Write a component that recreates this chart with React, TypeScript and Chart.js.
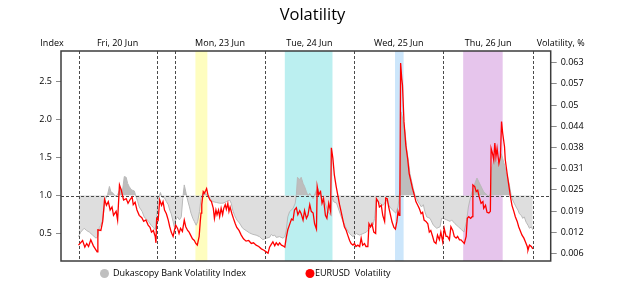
import { useEffect, useRef } from "react";
import { Chart, registerables } from "chart.js";

Chart.register(...registerables);

const TITLE = "Volatility";
const LEFT_AXIS_TITLE = "Index";
const RIGHT_AXIS_TITLE = "Volatility, %";
const INDEX_LABEL = "Dukascopy Bank Volatility Index";
const EURUSD_LABEL = "EURUSD  Volatility";
const FONT = "'Open Sans', 'DejaVu Sans', sans-serif";

// Trading hours, counted from Fri 20 Jun 00:00 (weekend gap removed)
const DAY_LABELS = ["Fri, 20 Jun", "Mon, 23 Jun", "Tue, 24 Jun", "Wed, 25 Jun", "Thu, 26 Jun"];
const DAY_STARTS = [0, 26, 50, 74, 98];
const DAY_ENDS = [21, 50, 74, 98, 122];
const DAY_LINES = [0, 21, 26, 50, 74, 98, 122];

const LEFT_TICKS = [0.5, 1.0, 1.5, 2.0, 2.5];
const RIGHT_TICK_LABELS = ["0.006", "0.012", "0.019", "0.025", "0.031", "0.038", "0.044", "0.05", "0.057", "0.063"];
const RIGHT_TICK_STEP = 0.0063333;
const INDEX_BASELINE = 1.0;

// Highlighted sessions
const BAND_FROM = [31.4, 55.4, 85.0, 103.3];
const BAND_TO = [34.6, 68.2, 87.3, 113.9];
const BAND_COLORS = ["#fefdbf", "#bbeff0", "#cce6fb", "#e6c5ec"];

const INDEX_HOURS = [
  0.0, 0.6, 1.5, 2.2, 2.9, 3.8, 4.7, 5.2, 5.6, 6.0,
  6.5, 7.2, 7.8, 8.3, 8.7, 9.3, 9.9, 10.5, 11.0, 11.4,
  11.8, 12.3, 12.8, 13.2, 13.6, 14.1, 14.5, 15.0, 15.3, 15.9,
  16.3, 17.1, 17.7, 18.1, 18.8, 19.5, 20.1, 20.6, 20.8, 21.0,
  21.4, 22.0, 22.4, 23.1, 23.6, 24.1, 24.5, 24.9, 25.4, 25.7,
  25.9, 26.6, 27.1, 27.6, 28.0, 28.4, 28.9, 29.3, 29.8, 30.2,
  30.7, 31.1, 31.6, 32.0, 32.5, 32.9, 33.4, 33.8, 34.3, 34.7,
  35.2, 36.1, 37.0, 37.9, 38.8, 39.7, 40.6, 41.0, 41.4, 41.9,
  42.5, 43.2, 44.1, 45.0, 45.9, 46.8, 47.7, 48.6, 49.5, 50.4,
  51.3, 51.8, 52.2, 52.7, 53.1, 54.0, 54.9, 55.4, 55.8, 56.2,
  56.7, 57.6, 58.2, 58.5, 58.8, 59.4, 59.8, 60.3, 60.7, 61.2,
  61.6, 62.1, 63.0, 63.9, 64.3, 65.2, 66.1, 67.0, 67.7, 68.1,
  68.5, 69.3, 70.2, 71.0, 71.9, 72.8, 73.7, 74.6, 75.5, 76.4,
  77.3, 78.2, 79.1, 79.5, 80.0, 80.9, 81.8, 82.7, 83.6, 84.5,
  85.2, 85.8, 86.3, 86.6, 87.1, 87.7, 88.1, 88.6, 89.0, 89.5,
  89.9, 90.4, 90.8, 91.2, 91.7, 92.1, 92.6, 93.0, 93.5, 94.4,
  95.3, 96.2, 97.1, 97.5, 98.0, 98.9, 99.8, 100.2, 101.1, 102.0,
  102.9, 103.5, 104.2, 104.7, 105.1, 105.7, 106.6, 107.0, 107.5, 107.9,
  108.4, 108.8, 109.2, 109.7, 110.2, 110.6, 110.9, 111.2, 111.7, 112.1,
  112.6, 113.0, 113.5, 113.9, 114.4, 114.8, 115.3, 115.7, 116.2, 116.6,
  117.1, 117.5, 118.0, 118.4, 118.9, 119.3, 119.7, 120.2, 120.7, 121.1,
  121.6, 122.0,
];

const INDEX_VALUES = [
  0.46, 0.52, 0.57, 0.54, 0.52, 0.48, 0.44, 0.46, 0.58, 0.61,
  0.68, 0.95, 1.01, 1.12, 1.05, 1.03, 0.99, 1.01, 1.07, 1.09,
  1.06, 1.25, 1.24, 1.16, 1.12, 1.08, 1.07, 1.06, 1.01, 0.92,
  0.85, 0.79, 0.71, 0.70, 0.66, 0.61, 0.58, 0.55, 0.55, 0.72,
  0.94, 1.04, 0.98, 0.97, 0.92, 0.88, 0.81, 0.76, 0.66, 0.59,
  0.66, 0.72, 0.68, 0.72, 0.96, 1.14, 1.03, 0.94, 0.85, 0.77,
  0.70, 0.66, 0.61, 0.66, 0.79, 0.96, 1.03, 1.05, 1.02, 0.98,
  0.96, 0.92, 0.91, 0.90, 0.90, 0.92, 0.94, 0.90, 0.81, 0.74,
  0.68, 0.64, 0.57, 0.54, 0.51, 0.49, 0.48, 0.46, 0.42, 0.44,
  0.45, 0.49, 0.47, 0.48, 0.45, 0.46, 0.44, 0.46, 0.55, 0.72,
  0.79, 0.83, 0.90, 1.01, 1.24, 1.21, 1.24, 1.16, 1.12, 1.05,
  1.00, 1.03, 0.96, 1.07, 1.09, 0.98, 0.92, 0.79, 0.74, 0.98,
  0.92, 0.90, 0.77, 0.66, 0.57, 0.50, 0.46, 0.50, 0.48, 0.50,
  0.52, 0.57, 0.61, 0.70, 0.94, 0.90, 0.87, 0.94, 0.85, 0.80,
  0.77, 0.85, 1.07, 2.10, 2.00, 1.84, 1.62, 1.45, 1.29, 1.18,
  1.09, 1.00, 0.96, 0.92, 0.88, 0.85, 0.88, 0.79, 0.72, 0.70,
  0.61, 0.57, 0.59, 0.70, 0.70, 0.68, 0.66, 0.68, 0.63, 0.59,
  0.55, 0.52, 0.66, 0.85, 0.94, 1.05, 1.18, 1.23, 1.18, 1.14,
  1.09, 1.05, 1.03, 1.01, 0.98, 1.03, 1.36, 1.40, 1.51, 1.47,
  1.42, 1.47, 1.55, 1.49, 1.40, 1.31, 1.23, 1.14, 1.00, 0.94,
  0.89, 0.85, 0.81, 0.76, 0.74, 0.70, 0.72, 0.65, 0.61, 0.57,
  0.59, 0.55,
];

const EURUSD_HOURS = [
  0.0, 1.1, 1.7, 2.2, 2.7, 3.3, 4.0, 5.0, 5.2, 6.0,
  6.5, 7.0, 7.5, 8.0, 8.5, 9.0, 9.4, 10.1, 10.5, 11.0,
  11.5, 12.1, 12.8, 13.3, 13.9, 14.4, 14.7, 15.2, 15.7, 16.3,
  17.0, 17.5, 18.1, 18.7, 19.2, 19.6, 20.1, 20.6, 20.8, 21.0,
  21.4, 21.8, 22.3, 22.7, 23.1, 23.6, 24.1, 24.5, 24.9, 25.4,
  25.8, 26.1, 26.6, 27.0, 27.4, 27.9, 28.4, 28.8, 29.3, 29.7,
  30.1, 30.6, 31.1, 31.5, 31.9, 32.4, 32.7, 32.9, 33.1, 33.5,
  33.8, 34.2, 34.4, 34.8, 35.3, 35.7, 36.2, 36.5, 36.9, 37.2,
  37.6, 37.9, 38.3, 38.7, 39.0, 39.4, 39.7, 40.1, 40.4, 40.7,
  41.2, 41.6, 42.1, 42.5, 43.1, 43.7, 44.3, 45.0, 45.7, 46.4,
  47.0, 47.7, 48.4, 49.1, 49.8, 50.4, 50.9, 51.3, 51.8, 52.2,
  52.7, 53.1, 53.6, 54.0, 54.5, 54.9, 55.4, 55.8, 56.2, 56.7,
  57.2, 57.6, 58.0, 58.5, 58.9, 59.4, 59.8, 60.3, 60.7, 61.2,
  61.6, 62.1, 62.5, 63.0, 63.4, 63.9, 64.1, 64.5, 65.0, 65.4,
  65.8, 66.3, 66.7, 67.2, 67.7, 67.9, 68.3, 68.7, 69.2, 69.6,
  70.1, 70.5, 71.0, 71.4, 71.9, 72.3, 72.8, 73.2, 73.7, 74.1,
  74.5, 75.0, 75.5, 75.9, 76.3, 76.8, 77.2, 77.7, 78.0, 78.4,
  78.8, 79.3, 79.8, 80.0, 80.5, 80.8, 81.3, 81.7, 82.2, 82.5,
  82.9, 83.3, 83.8, 84.2, 84.7, 85.1, 85.5, 85.8, 86.1, 86.3,
  86.5, 86.8, 87.0, 87.4, 87.9, 88.4, 88.8, 89.3, 89.7, 90.1,
  90.6, 91.1, 91.5, 92.0, 92.4, 92.8, 93.3, 93.8, 94.2, 94.6,
  95.1, 95.5, 96.0, 96.4, 96.9, 97.3, 97.8, 98.2, 98.7, 99.1,
  99.6, 100.0, 100.5, 100.9, 101.4, 101.8, 102.3, 102.7, 103.2, 103.6,
  104.1, 104.4, 104.8, 105.3, 105.7, 105.9, 106.4, 106.8, 107.2, 107.6,
  108.1, 108.6, 108.8, 109.3, 109.7, 110.2, 110.6, 110.8, 111.2, 111.5,
  111.8, 112.1, 112.4, 112.9, 113.3, 113.6, 113.9, 114.4, 114.6, 115.1,
  115.6, 116.0, 116.4, 116.9, 117.3, 117.8, 118.2, 118.7, 119.1, 119.6,
  120.0, 120.5, 120.7, 121.1, 121.6, 122.0,
];

const EURUSD_VOL = [
  0.0088, 0.0102, 0.0082, 0.0093, 0.0084, 0.0104, 0.0086, 0.0068, 0.0134, 0.0132,
  0.0159, 0.0225, 0.0207, 0.0218, 0.0193, 0.0202, 0.0177, 0.0189, 0.0163, 0.0268,
  0.0252, 0.0223, 0.0227, 0.0213, 0.0225, 0.0232, 0.0209, 0.0216, 0.0193, 0.0177,
  0.0170, 0.0159, 0.0163, 0.0148, 0.0141, 0.0127, 0.0132, 0.0114, 0.0095, 0.0168,
  0.0163, 0.0223, 0.0207, 0.0218, 0.0193, 0.0182, 0.0163, 0.0143, 0.0127, 0.0114,
  0.0134, 0.0148, 0.0138, 0.0123, 0.0138, 0.0129, 0.0163, 0.0143, 0.0132, 0.0127,
  0.0118, 0.0107, 0.0102, 0.0093, 0.0088, 0.0114, 0.0159, 0.0184, 0.0209, 0.0248,
  0.0243, 0.0252, 0.0257, 0.0236, 0.0223, 0.0218, 0.0198, 0.0168, 0.0193, 0.0179,
  0.0193, 0.0173, 0.0198, 0.0179, 0.0198, 0.0209, 0.0195, 0.0213, 0.0189, 0.0202,
  0.0182, 0.0168, 0.0152, 0.0141, 0.0132, 0.0118, 0.0107, 0.0100, 0.0102, 0.0093,
  0.0095, 0.0088, 0.0084, 0.0077, 0.0073, 0.0068, 0.0064, 0.0082, 0.0091, 0.0098,
  0.0086, 0.0095, 0.0088, 0.0095, 0.0088, 0.0086, 0.0082, 0.0111, 0.0134, 0.0150,
  0.0166, 0.0163, 0.0193, 0.0200, 0.0179, 0.0191, 0.0182, 0.0163, 0.0191, 0.0168,
  0.0177, 0.0209, 0.0189, 0.0184, 0.0152, 0.0136, 0.0263, 0.0239, 0.0248, 0.0213,
  0.0227, 0.0177, 0.0168, 0.0213, 0.0189, 0.0379, 0.0348, 0.0298, 0.0263, 0.0239,
  0.0209, 0.0189, 0.0163, 0.0143, 0.0132, 0.0118, 0.0102, 0.0093, 0.0088, 0.0093,
  0.0084, 0.0088, 0.0084, 0.0109, 0.0088, 0.0093, 0.0084, 0.0084, 0.0152, 0.0143,
  0.0152, 0.0127, 0.0123, 0.0227, 0.0218, 0.0202, 0.0207, 0.0177, 0.0159, 0.0229,
  0.0227, 0.0202, 0.0177, 0.0157, 0.0141, 0.0136, 0.0159, 0.0189, 0.0177, 0.0218,
  0.0632, 0.0586, 0.0566, 0.0457, 0.0386, 0.0345, 0.0302, 0.0277, 0.0257, 0.0241,
  0.0218, 0.0207, 0.0198, 0.0182, 0.0186, 0.0163, 0.0159, 0.0152, 0.0127, 0.0132,
  0.0114, 0.0098, 0.0093, 0.0118, 0.0104, 0.0127, 0.0098, 0.0138, 0.0114, 0.0114,
  0.0104, 0.0143, 0.0132, 0.0114, 0.0109, 0.0114, 0.0104, 0.0104, 0.0098, 0.0093,
  0.0114, 0.0168, 0.0173, 0.0168, 0.0173, 0.0268, 0.0263, 0.0248, 0.0252, 0.0232,
  0.0213, 0.0218, 0.0198, 0.0207, 0.0186, 0.0184, 0.0189, 0.0377, 0.0361, 0.0343,
  0.0393, 0.0352, 0.0377, 0.0332, 0.0352, 0.0457, 0.0423, 0.0382, 0.0343, 0.0302,
  0.0263, 0.0232, 0.0207, 0.0189, 0.0173, 0.0159, 0.0143, 0.0129, 0.0118, 0.0109,
  0.0098, 0.0084, 0.0073, 0.0088, 0.0084, 0.0077,
];

const INDEX_COLOR = "#b9b9b9";
const EURUSD_COLOR = "#ff0000";

const decorations = {
  id: "decorations",
  beforeDatasetsDraw(chart: any) {
    const { ctx, chartArea: a, scales } = chart;
    const x = scales.x;
    ctx.save();
    ctx.beginPath();
    ctx.rect(a.left, a.top, a.right - a.left, a.bottom - a.top);
    ctx.clip();
    BAND_FROM.forEach((from, i) => {
      const x0 = x.getPixelForValue(from);
      const x1 = x.getPixelForValue(BAND_TO[i]);
      ctx.fillStyle = BAND_COLORS[i];
      ctx.fillRect(x0, a.top, x1 - x0, a.bottom - a.top);
    });
    ctx.restore();
  },
  afterDatasetDraw(chart: any, args: any) {
    if (args.index !== 0) return;
    const { ctx, chartArea: a, scales } = chart;
    ctx.save();
    ctx.strokeStyle = "#4a4a4a";
    ctx.lineWidth = 1;
    ctx.setLineDash([3, 2]);
    DAY_LINES.forEach((h) => {
      const px = Math.round(scales.x.getPixelForValue(h)) + 0.5;
      ctx.beginPath();
      ctx.moveTo(px, a.top);
      ctx.lineTo(px, a.bottom);
      ctx.stroke();
    });
    const py = Math.round(scales.y.getPixelForValue(INDEX_BASELINE)) + 0.5;
    ctx.beginPath();
    ctx.moveTo(a.left, py);
    ctx.lineTo(a.right, py);
    ctx.stroke();
    ctx.restore();
  },
  afterDraw(chart: any) {
    const { ctx, chartArea: a, scales, width } = chart;
    ctx.save();
    // frame
    ctx.strokeStyle = "#3c3c3c";
    ctx.lineWidth = 1.5;
    ctx.strokeRect(a.left, a.top, a.right - a.left, a.bottom - a.top);

    ctx.fillStyle = "#000";
    ctx.textBaseline = "middle";
    ctx.textAlign = "center";
    ctx.font = `16.5px ${FONT}`;
    ctx.fillText(TITLE, width / 2, 15);

    ctx.font = `9px ${FONT}`;
    DAY_LABELS.forEach((label, i) => {
      const cx = scales.x.getPixelForValue((DAY_STARTS[i] + DAY_ENDS[i]) / 2);
      ctx.fillText(label, cx, 43);
    });
    ctx.fillText(LEFT_AXIS_TITLE, a.left - 9, 43);
    ctx.fillText(RIGHT_AXIS_TITLE, a.right + 10, 43);

    // legend
    const ly = 273.5;
    ctx.textAlign = "left";
    ctx.fillStyle = "#bfbfbf";
    ctx.beginPath();
    ctx.arc(a.left + 43.5, ly, 4.5, 0, Math.PI * 2);
    ctx.fill();
    ctx.fillStyle = "#000";
    ctx.fillText(INDEX_LABEL, a.left + 52, ly);
    ctx.fillStyle = EURUSD_COLOR;
    ctx.beginPath();
    ctx.arc(a.left + 249, ly, 4.5, 0, Math.PI * 2);
    ctx.fill();
    ctx.fillStyle = "#000";
    ctx.fillText(EURUSD_LABEL, a.left + 254, ly);
    ctx.restore();
  },
};

export default function App() {
  const canvasRef = useRef<HTMLCanvasElement | null>(null);

  useEffect(() => {
    if (!canvasRef.current) return;
    const chart = new Chart(canvasRef.current, {
      type: "line",
      data: {
        datasets: [
          {
            label: INDEX_LABEL,
            data: INDEX_HOURS.map((h, i) => ({ x: h, y: INDEX_VALUES[i] })),
            yAxisID: "y",
            borderColor: INDEX_COLOR,
            borderWidth: 1,
            pointRadius: 0,
            tension: 0,
            order: 2,
            fill: { target: { value: INDEX_BASELINE }, above: "#bdbdbd", below: "#dedede" },
          },
          {
            label: EURUSD_LABEL,
            data: EURUSD_HOURS.map((h, i) => ({ x: h, y: EURUSD_VOL[i] })),
            yAxisID: "y1",
            borderColor: EURUSD_COLOR,
            borderWidth: 1.3,
            pointRadius: 0,
            tension: 0,
            order: 1,
            fill: false,
          },
        ],
      },
      options: {
        animation: false,
        responsive: false,
        devicePixelRatio: 1,
        layout: { padding: { left: 0, right: 0, top: 51, bottom: 20 } },
        plugins: { legend: { display: false }, title: { display: false }, tooltip: { enabled: false } },
        scales: {
          x: { type: "linear", min: -4.7, max: 126.8, display: false },
          y: {
            type: "linear",
            position: "left",
            min: 0.14,
            max: 2.9,
            afterBuildTicks: (scale: any) => {
              scale.ticks = LEFT_TICKS.map((v) => ({ value: v }));
            },
            afterFit: (scale: any) => {
              scale.width = 61;
            },
            border: { display: false },
            grid: { drawOnChartArea: false, drawTicks: true, tickLength: 5, color: "#8a8a8a" },
            ticks: {
              padding: 4,
              color: "#000",
              font: { family: FONT, size: 9 },
              callback: (v: any) => Number(v).toFixed(1),
            },
          },
          y1: {
            type: "linear",
            position: "right",
            min: 0.00407,
            max: 0.0668,
            afterBuildTicks: (scale: any) => {
              scale.ticks = RIGHT_TICK_LABELS.map((_, i) => ({ value: (i + 1) * RIGHT_TICK_STEP }));
            },
            afterFit: (scale: any) => {
              scale.width = 74.3;
            },
            border: { display: false },
            grid: { drawOnChartArea: false, drawTicks: true, tickLength: 6, color: "#8a8a8a" },
            ticks: {
              padding: 4,
              color: "#000",
              font: { family: FONT, size: 9 },
              callback: (_v: any, i: number) => RIGHT_TICK_LABELS[i],
            },
          },
        },
      },
      plugins: [decorations],
    });
    return () => chart.destroy();
  }, []);

  return (
    <div style={{ position: "fixed", left: 0, top: 0, width: 625, height: 281, background: "#fff" }}>
      <canvas ref={canvasRef} width={625} height={281} style={{ display: "block" }} />
    </div>
  );
}
